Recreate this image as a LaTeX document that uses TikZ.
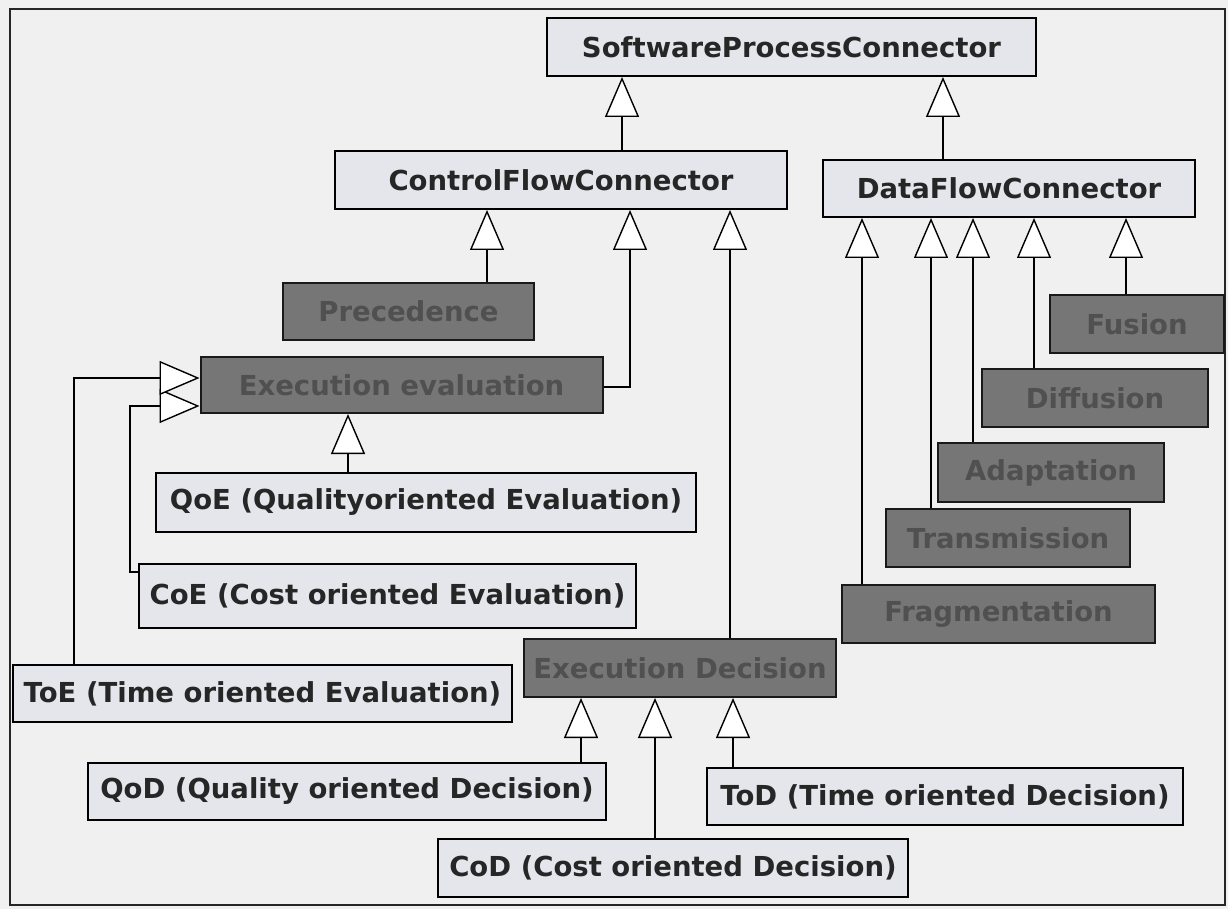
\documentclass[tikz,border=0pt]{standalone}
\usepackage{fontspec}
\setmainfont{DejaVu Sans}
\usetikzlibrary{arrows.meta}
\definecolor{paper}{RGB}{240,240,240}
\definecolor{lightfill}{RGB}{228,230,236}
\definecolor{darkfill}{RGB}{118,118,118}
\definecolor{darktext}{RGB}{80,80,80}
\tikzset{
  lightbox/.style={draw=black, line width=2pt, fill=lightfill, inner sep=0pt,
    font=\fontsize{27.5}{30}\selectfont\bfseries, text=black!85},
  darkbox/.style={draw=black!90, line width=2pt, fill=darkfill, inner sep=0pt,
    font=\fontsize{27.5}{30}\selectfont\bfseries, text=darktext},
  inh/.style={draw=black, line width=1.8pt,
    -{Triangle[length=40pt,width=34pt,fill=white,line width=1.4pt]}},
}
\begin{document}
\begin{tikzpicture}[x=1pt,y=-1pt]
\useasboundingbox (0,0) rectangle (1228,909);
\fill[paper] (0,0) rectangle (1228,909);
\draw[line width=2.6pt, black!85] (10,9) rectangle (1225,905);

% nodes
\node[lightbox, minimum width=489pt, minimum height=58pt] (spc) at (791.5,47) {SoftwareProcessConnector};
\node[lightbox, minimum width=452pt, minimum height=58pt] (cfc) at (561,180) {ControlFlowConnector};
\node[lightbox, minimum width=372pt, minimum height=57pt] (dfc) at (1009,188.5) {DataFlowConnector};

\node[darkbox, minimum width=251pt, minimum height=57pt] (prec) at (408.5,311.5) {Precedence};
\node[darkbox, minimum width=402pt, minimum height=56pt] (ee) at (401.5,385) {Execution evaluation};
\node[lightbox, minimum width=540pt, minimum height=59pt] (qoe) at (426,502.5) {QoE (Qualityoriented Evaluation)};
\node[lightbox, minimum width=497pt, minimum height=64pt] (coe) at (387.5,595.5) {CoE (Cost oriented Evaluation)};
\node[lightbox, minimum width=499pt, minimum height=57pt] (toe) at (262.5,693.5) {ToE (Time oriented Evaluation)};
\node[darkbox, minimum width=312pt, minimum height=58pt] (ed) at (680,668) {Execution Decision};
\node[lightbox, minimum width=518pt, minimum height=57pt] (qod) at (347,791.5) {QoD (Quality oriented Decision)};
\node[lightbox, minimum width=470pt, minimum height=58pt] (cod) at (673,868) {CoD (Cost oriented Decision)};
\node[lightbox, minimum width=476pt, minimum height=57pt] (tod) at (945,796.5) {ToD (Time oriented Decision)};

\node[darkbox, minimum width=174pt, minimum height=58pt] (fus) at (1137,324) {Fusion};
\node[darkbox, minimum width=226pt, minimum height=58pt] (dif) at (1095,398) {Diffusion};
\node[darkbox, minimum width=226pt, minimum height=59pt] (ada) at (1051,472.5) {Adaptation};
\node[darkbox, minimum width=244pt, minimum height=58pt] (tra) at (1008,538) {Transmission};
\node[darkbox, minimum width=313pt, minimum height=58pt] (fra) at (998.5,614) {Fragmentation};

% connectors
\draw[inh] (cfc.north -| 622,0) -- (spc.south -| 622,0);
\draw[inh] (dfc.north -| 943,0) -- (spc.south -| 943,0);

\draw[inh] (prec.north -| 487,0) -- (cfc.south -| 487,0);
\draw[inh] (ee.east |- 0,387) -- (630,387) -- (cfc.south -| 630,0);
\draw[inh] (ed.north -| 730,0) -- (cfc.south -| 730,0);

\draw[inh] (qoe.north -| 348,0) -- (ee.south -| 348,0);
\draw[inh] (coe.west |- 0,572) -- (130,572) -- (130,406) -- (ee.west |- 0,406);
\draw[inh] (toe.north -| 74,0) -- (74,378) -- (ee.west |- 0,378);

\draw[inh] (qod.north -| 581,0) -- (ed.south -| 581,0);
\draw[inh] (cod.north -| 655,0) -- (ed.south -| 655,0);
\draw[inh] (tod.north -| 733,0) -- (ed.south -| 733,0);

\draw[inh] (fra.north -| 862,0) -- (dfc.south -| 862,0);
\draw[inh] (tra.north -| 931,0) -- (dfc.south -| 931,0);
\draw[inh] (ada.north -| 973,0) -- (dfc.south -| 973,0);
\draw[inh] (dif.north -| 1034,0) -- (dfc.south -| 1034,0);
\draw[inh] (fus.north -| 1126,0) -- (dfc.south -| 1126,0);
\end{tikzpicture}
\end{document}
